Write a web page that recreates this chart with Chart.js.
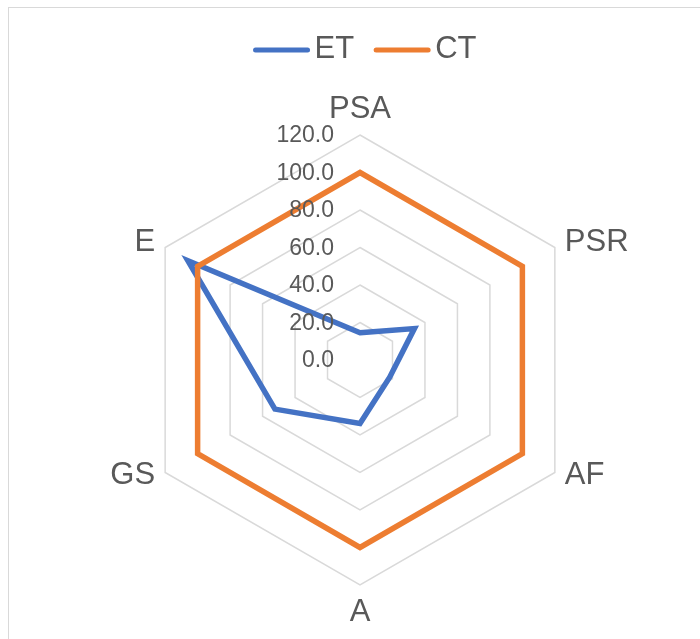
<!DOCTYPE html>
<html>
<head>
<meta charset="utf-8">
<script src="https://cdn.jsdelivr.net/npm/chart.js@4.4.1/dist/chart.umd.min.js"></script>
<style>
  html, body { margin: 0; padding: 0; background: #fff; overflow: hidden; }
  #wrap { position: relative; width: 700px; height: 639px; }
  #frame { position: absolute; left: 8px; top: 7px; width: 800px; height: 800px; border: 1px solid #d9d9d9; box-sizing: border-box; }
  #chart { position: absolute; left: 0; top: 0; }
</style>
</head>
<body>
<div id="wrap">
  <div id="frame"></div>
  <canvas id="chart" width="700" height="639"></canvas>
</div>
<script>
const categories = ['PSA', 'PSR', 'AF', 'A', 'GS', 'E'];
const etValues = [14.5, 33.5, 18.3, 33.8, 52.4, 106.0];
const ctValues = [100, 100, 100, 100, 100, 100];
const tickValues = [0, 20, 40, 60, 80, 100, 120];
const tickLabels = ['0.0', '20.0', '40.0', '60.0', '80.0', '100.0', '120.0'];

const FONT = '"Liberation Sans", Arial, sans-serif';
const TEXT = '#595959';

// ticks, category labels and legend drawn by hand to get Excel-like placement
const excelText = {
  id: 'excelText',
  afterDatasetsDraw(chart) {
    const ctx = chart.ctx;
    const r = chart.scales.r;
    ctx.save();
    ctx.fillStyle = TEXT;

    // tick labels, right aligned left of the centre
    ctx.font = '23px ' + FONT;
    ctx.textAlign = 'right';
    ctx.textBaseline = 'middle';
    tickValues.forEach((v, i) => {
      const d = r.getDistanceFromCenterForValue(v);
      ctx.fillText(tickLabels[i], r.xCenter - 26, r.yCenter - d + 1);
    });

    // category labels
    ctx.font = '31px ' + FONT;
    categories.forEach((c, i) => {
      const p = r.getPointPosition(i, r.drawingArea);
      const dx = p.x - r.xCenter;
      const dy = p.y - r.yCenter;
      let x = p.x, y = p.y;
      if (Math.abs(dx) < 1) {
        ctx.textAlign = 'center';
        y += dy < 0 ? -26 : 27;
      } else {
        ctx.textAlign = dx > 0 ? 'left' : 'right';
        x += dx > 0 ? 10 : -10;
        y += dy < 0 ? -5 : 3;
      }
      ctx.fillText(c, x, y);
    });

    // legend
    const items = chart.data.datasets.slice().sort((a, b) => a.legendPos - b.legendPos);
    const lineLen = 56, gap = 5, itemGap = 20;
    let total = 0;
    items.forEach((ds, i) => {
      total += lineLen + gap + ctx.measureText(ds.label).width + (i ? itemGap : 0);
    });
    let x = 365 - total / 2;
    const ly = 50;
    ctx.textAlign = 'left';
    ctx.textBaseline = 'middle';
    items.forEach(ds => {
      ctx.strokeStyle = ds.borderColor;
      ctx.lineWidth = 5;
      ctx.lineCap = 'round';
      ctx.beginPath();
      ctx.moveTo(x + 2, ly);
      ctx.lineTo(x + lineLen - 2, ly);
      ctx.stroke();
      x += lineLen + gap;
      ctx.fillText(ds.label, x, ly - 1);
      x += ctx.measureText(ds.label).width + itemGap;
    });
    ctx.restore();
  }
};

new Chart(document.getElementById('chart'), {
  type: 'radar',
  data: {
    labels: categories,
    datasets: [
      {
        label: 'ET',
        data: etValues,
        borderColor: '#4472c4',
        backgroundColor: 'rgba(0,0,0,0)',
        borderWidth: 5.5,
        borderJoinStyle: 'miter',
        pointRadius: 0,
        fill: false,
        order: 2,
        legendPos: 0
      },
      {
        label: 'CT',
        data: ctValues,
        borderColor: '#ed7d31',
        backgroundColor: 'rgba(0,0,0,0)',
        borderWidth: 5.5,
        borderJoinStyle: 'miter',
        pointRadius: 0,
        fill: false,
        order: 1,
        legendPos: 1
      }
    ]
  },
  options: {
    responsive: false,
    animation: false,
    layout: {
      padding: { left: 135, right: 115, top: 135, bottom: 54 }
    },
    plugins: {
      legend: { display: false },
      tooltip: { enabled: false }
    },
    scales: {
      r: {
        min: 0,
        max: 120,
        ticks: { stepSize: 20, display: false },
        angleLines: { display: false },
        grid: { color: '#d9d9d9', lineWidth: 1.5 },
        pointLabels: { display: false }
      }
    }
  },
  plugins: [excelText]
});
</script>
</body>
</html>
